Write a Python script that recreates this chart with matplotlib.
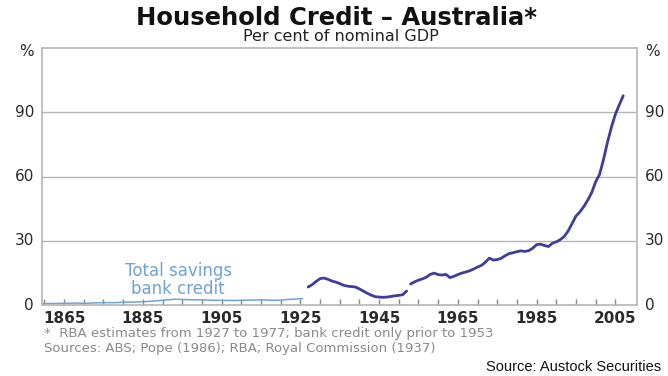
import matplotlib
matplotlib.use("Agg")
import matplotlib.pyplot as plt
import numpy as np

# ---- data ----
savings_years = [1859.5, 1862, 1865, 1868, 1870, 1873, 1875, 1878, 1880, 1883, 1885, 1888,
                 1890, 1893, 1895, 1898, 1900, 1903, 1905, 1908, 1910, 1913, 1915, 1918,
                 1920, 1922, 1924, 1925.5]
savings_vals = [0.6, 0.7, 0.8, 0.9, 0.8, 1.0, 1.1, 1.1, 1.3, 1.4, 1.5, 1.9,
                2.2, 2.7, 2.6, 2.4, 2.4, 2.2, 2.2, 2.1, 2.2, 2.3, 2.4, 2.2,
                2.3, 2.6, 2.8, 3.0]

early_years = list(range(1927, 1953))
early_vals = [8.4, 9.5, 11.0, 12.3, 12.6, 12.0, 11.2, 10.7, 10.0, 9.2, 8.8, 8.6, 8.4,
              7.5, 6.5, 5.5, 4.6, 3.9, 3.7, 3.6, 3.7, 4.0, 4.3, 4.5, 4.8, 6.5]

late_years = list(range(1953, 2008))
late_vals = [9.8, 10.8, 11.6, 12.2, 13.0, 14.3, 14.9, 14.2, 14.0, 14.3, 12.8, 13.4,
             14.2, 14.9, 15.4, 16.0, 16.8, 17.7, 18.5, 20.0, 21.9, 21.0, 21.2, 21.8,
             23.0, 24.0, 24.4, 24.9, 25.3, 25.0, 25.4, 26.5, 28.2, 28.4, 27.8, 27.3,
             28.8, 29.5, 30.5, 32.0, 34.5, 38.0, 41.5, 43.5, 46.0, 49.0, 52.5, 57.5,
             61.0, 68.0, 76.0, 83.0, 89.0, 93.5, 97.7]

xtick_labels = [1865, 1885, 1905, 1925, 1945, 1965, 1985, 2005]
ytick_vals = [0, 30, 60, 90]

plt.rcParams['font.family'] = ['DejaVu Sans']

fig = plt.figure(figsize=(6.68, 3.76), dpi=100)
ax = fig.add_axes([0.0629, 0.1888, 0.8907, 0.6835])

light = '#6fa3d8'
dark = '#3d3d9c'
grid = '#b5b5b5'
txt = '#2a2a2a'

ax.plot(savings_years, savings_vals, color=light, lw=1.1)
ax.plot(early_years, early_vals, color=dark, lw=2.0, solid_capstyle='round')
ax.plot(late_years, late_vals, color=dark, lw=2.0, solid_capstyle='round')

ax.set_xlim(1859.4, 2010.5)
ax.set_ylim(0, 120)

for v in [30, 60, 90]:
    ax.axhline(v, color=grid, lw=1.0, zorder=0)

for s in ax.spines.values():
    s.set_color(grid)
    s.set_linewidth(1.2)

ax.set_xticks(np.arange(1860, 2010, 5))
ax.set_xticklabels([])
ax.tick_params(axis='x', direction='in', length=4, color='#888888', width=1)
ax.set_yticks([])

for yr in xtick_labels:
    ax.text(yr, -6.3, str(yr), ha='center', va='center', fontsize=11, fontweight='bold',
            color=txt)

for v in ytick_vals:
    ax.text(-0.0135, v, str(v), ha='right', va='center', fontsize=11, color=txt,
            transform=ax.get_yaxis_transform())
    ax.text(1.0135, v, str(v), ha='left', va='center', fontsize=11, color=txt,
            transform=ax.get_yaxis_transform())
ax.text(-0.0135, 118.5, '%', ha='right', va='center', fontsize=11, color=txt,
        transform=ax.get_yaxis_transform())
ax.text(1.0135, 118.5, '%', ha='left', va='center', fontsize=11, color=txt,
        transform=ax.get_yaxis_transform())

ax.text(1894, 11.5, 'Total savings\nbank credit', ha='center', va='center', fontsize=12,
        color=light, linespacing=1.0)

fig.text(0.504, 0.952, 'Household Credit \u2013 Australia*', ha='center', va='center',
         fontsize=17.5, fontweight='bold', color='#111111')
fig.text(0.51, 0.902, 'Per cent of nominal GDP', ha='center', va='center',
         fontsize=11.5, color='#222222')

fig.text(0.066, 0.113, '*  RBA estimates from 1927 to 1977; bank credit only prior to 1953',
         ha='left', va='center', fontsize=9.5, color='#8a8a8a')
fig.text(0.066, 0.074, 'Sources: ABS; Pope (1986); RBA; Royal Commission (1937)',
         ha='left', va='center', fontsize=9.5, color='#8a8a8a')
fig.text(0.99, 0.024, 'Source: Austock Securities', ha='right', va='center',
         fontsize=10.5, color='#111111', family='Liberation Sans')

fig.savefig('out.png', dpi=100)
